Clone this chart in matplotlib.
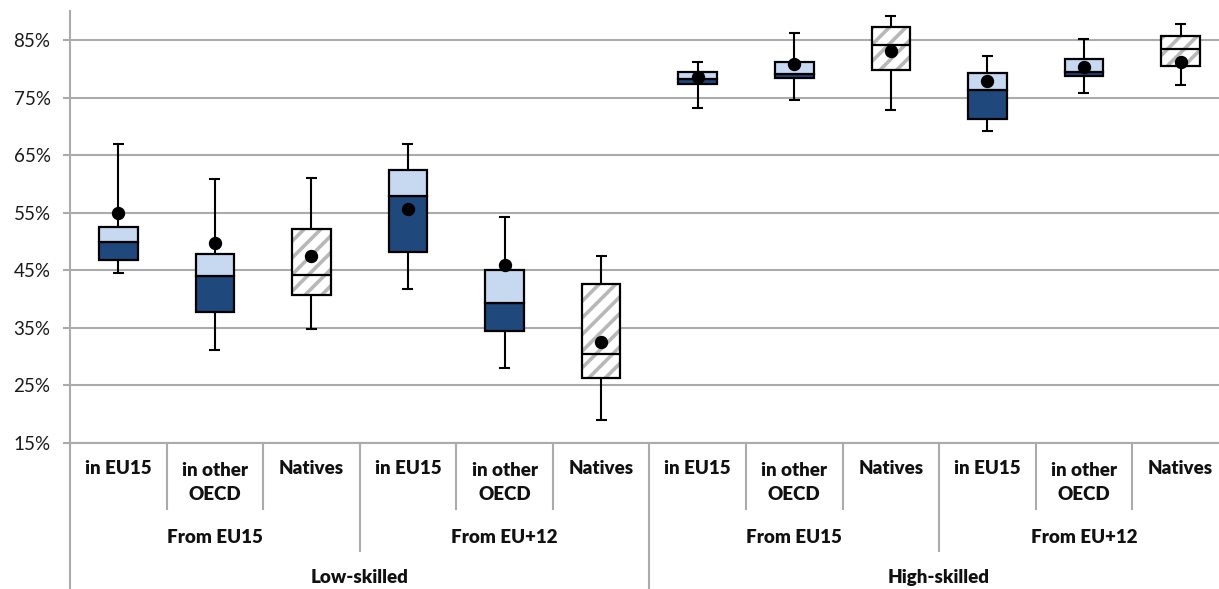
import matplotlib.pyplot as plt
import matplotlib.transforms as mtransforms

plt.rcParams['font.family'] = ['Lato', 'DejaVu Sans']
plt.rcParams['hatch.linewidth'] = 2.6

# employment rates (%) per group: whiskers, quartiles, median and mean
sub_labels = ['in EU15', 'in other\nOECD', 'Natives'] * 4
group_labels = ['From EU15', 'From EU+12', 'From EU15', 'From EU+12']
skill_labels = ['Low-skilled', 'High-skilled']
kinds = ['mig', 'mig', 'nat'] * 4

whisk_lo = [44.5, 31.2, 34.8, 41.8, 28.1, 19.0, 73.2, 74.6, 72.8, 69.3, 75.8, 77.2]
q1 = [46.8, 37.7, 40.8, 48.2, 34.5, 26.3, 77.4, 78.4, 79.8, 71.4, 78.8, 80.5]
median = [49.9, 44.0, 44.2, 58.0, 39.3, 30.4, 78.3, 79.1, 84.1, 76.4, 79.5, 83.4]
q3 = [52.5, 47.9, 52.2, 62.5, 45.1, 42.6, 79.4, 81.2, 87.3, 79.3, 81.7, 85.8]
whisk_hi = [66.9, 60.8, 61.0, 66.9, 54.3, 47.5, 81.3, 86.2, 89.2, 82.2, 85.3, 87.8]
mean = [55.0, 49.8, 47.5, 55.7, 46.0, 32.5, 78.6, 80.9, 83.1, 77.9, 80.4, 81.3]

W, H = 1219, 589
fig = plt.figure(figsize=(W / 100, H / 100), dpi=100)
ax = fig.add_axes([70 / W, 1 - 443 / H, (1228.8 - 70) / W, (443 - 11.5) / H])

grid_c = '#ABABAB'
dark = '#1F497D'
light = '#C6D9F1'
bw = 0.4
cap = 0.057

xs = list(range(len(median)))
for x, k, lo, a, m, b, hi in zip(xs, kinds, whisk_lo, q1, median, q3, whisk_hi):
    ax.vlines(x, lo, a, color='black', lw=1.5, zorder=3)
    ax.vlines(x, b, hi, color='black', lw=1.5, zorder=3)
    ax.hlines([lo, hi], x - cap, x + cap, color='black', lw=1.5, zorder=3)
    if k == 'mig':
        ax.bar(x, m - a, bottom=a, width=bw, color=dark, edgecolor='black', lw=1.6, zorder=3)
        ax.bar(x, b - m, bottom=m, width=bw, color=light, edgecolor='black', lw=1.6, zorder=3)
    else:
        ax.bar(x, b - a, bottom=a, width=bw, color='white', edgecolor='#B8B8B8',
               hatch='//', lw=0, zorder=3)
        ax.bar(x, b - a, bottom=a, width=bw, fill=False, edgecolor='black', lw=1.6, zorder=4)
        ax.hlines(m, x - bw / 2, x + bw / 2, color='black', lw=1.6, zorder=4)

ax.plot(xs, mean, 'o', color='black', ms=8.6, zorder=5)

ax.set_xlim(-0.5, len(xs) - 0.5)
ax.set_ylim(15, 90)
yt = list(range(15, 90, 10))
ax.set_yticks(yt)
ax.set_yticklabels([f'{v}%' for v in yt], fontsize=13.5, color='#1a1a1a')
ax.set_xticks([])
ax.tick_params(axis='y', length=5, width=1.5, color=grid_c, pad=9)
ax.yaxis.grid(True, color=grid_c, lw=1.5)
ax.set_axisbelow(True)
for s in ['top', 'right']:
    ax.spines[s].set_visible(False)
for s in ['left', 'bottom']:
    ax.spines[s].set_color(grid_c)
    ax.spines[s].set_linewidth(1.5)

# multi-level category axis below the plot
tr = mtransforms.blended_transform_factory(ax.transData, fig.transFigure)

def fy(px):
    return 1 - px / H

lab_kw = dict(transform=tr, ha='center', va='center', fontsize=13.5,
              fontweight='heavy', color='#111111')
for x, lab in zip(xs, sub_labels):
    ax.text(x, fy(482.5 if '\n' in lab else 469), lab, linespacing=1.45, **lab_kw)
for i, lab in enumerate(group_labels):
    ax.text(3 * i + 1, fy(537.5), lab, **lab_kw)
for i, lab in enumerate(skill_labels):
    ax.text(6 * i + 2.5, fy(577.5), lab, **lab_kw)

for bnd in range(13):
    if bnd % 6 == 0:
        end = 589
    elif bnd % 3 == 0:
        end = 551
    else:
        end = 509
    ax.plot([bnd - 0.5, bnd - 0.5], [fy(443), fy(end)], transform=tr, color=grid_c,
            lw=1.5, clip_on=False)

fig.savefig('out.png', dpi=100)
